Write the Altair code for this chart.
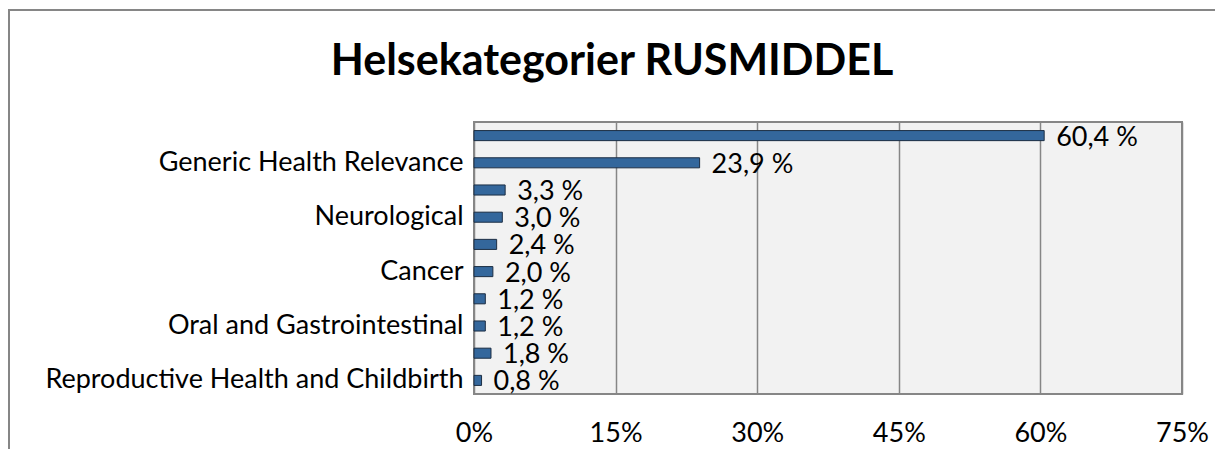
import json
import altair as alt
import pandas as pd

categories = [
    "Mental Health",
    "Generic Health Relevance",
    "Infection",
    "Neurological",
    "Cardiovascular",
    "Cancer",
    "Injuries and Accidents",
    "Oral and Gastrointestinal",
    "Other",
    "Reproductive Health and Childbirth",
]
values = [60.4, 23.9, 3.3, 3.0, 2.4, 2.0, 1.2, 1.2, 1.8, 0.8]
x_ticks = [0, 15, 30, 45, 60, 75]
title_text = "Helsekategorier RUSMIDDEL"

df = pd.DataFrame({"kategori": categories, "andel": values})
df["etikett"] = [f"{v:.1f} %".replace(".", ",") for v in values]

shown = [c for i, c in enumerate(categories) if i % 2 == 1]
label_expr = f"indexof({json.dumps(shown)}, datum.value) >= 0 ? datum.label : ''"

FONT = "Lato"

x_enc = alt.X(
    "andel:Q",
    scale=alt.Scale(domain=[0, 75], nice=False, zero=True),
    axis=alt.Axis(
        values=x_ticks,
        labelExpr="datum.value + '%'",
        title=None,
        domain=False,
        ticks=False,
        grid=True,
        gridColor="#868686",
        gridWidth=1.5,
        labelFont=FONT,
        labelFontSize=27,
        labelColor="#000000",
        labelPadding=26,
        labelFlush=False,
    ),
)
y_enc = alt.Y(
    "kategori:N",
    sort=categories,
    scale=alt.Scale(paddingInner=0.63, paddingOuter=0.315),
    axis=alt.Axis(
        title=None,
        domain=False,
        ticks=False,
        labelExpr=label_expr,
        labelFont=FONT,
        labelFontSize=27,
        labelColor="#000000",
        labelPadding=11,
        labelLimit=600,
    ),
)

base = alt.Chart(df)

bars = base.mark_bar(
    color="#34679c", stroke="#1c2e44", strokeWidth=1
).encode(x=x_enc, y=y_enc)

labels = base.mark_text(
    align="left", baseline="middle", dx=12, dy=2, font=FONT, fontSize=27, color="#000000"
).encode(x="andel:Q", y=alt.Y("kategori:N", sort=categories), text="etikett:N")

one = pd.DataFrame({"t": [title_text]})
border = alt.Chart(one).mark_rect(
    fillOpacity=0, stroke="#868686", strokeWidth=2
).encode(
    x=alt.value(-465), x2=alt.value(780), y=alt.value(-112), y2=alt.value(420)
)
title = alt.Chart(one).mark_text(
    align="center", baseline="alphabetic", font=FONT, fontWeight="bold", fontSize=43, color="#000000"
).encode(x=alt.value(138), y=alt.value(-47), text="t:N")

chart = (
    alt.layer(border, title, bars, labels)
    .properties(
        width=708,
        height=272,
        autosize=alt.AutoSizeParams(type="none"),
        padding={"left": 466, "top": 114, "right": 33, "bottom": 55},
        background="#ffffff",
    )
    .configure_view(fill="#f2f2f2", stroke="#868686", strokeWidth=2)
)

chart.save("out.html", embed_options={"renderer": "svg", "actions": False})
